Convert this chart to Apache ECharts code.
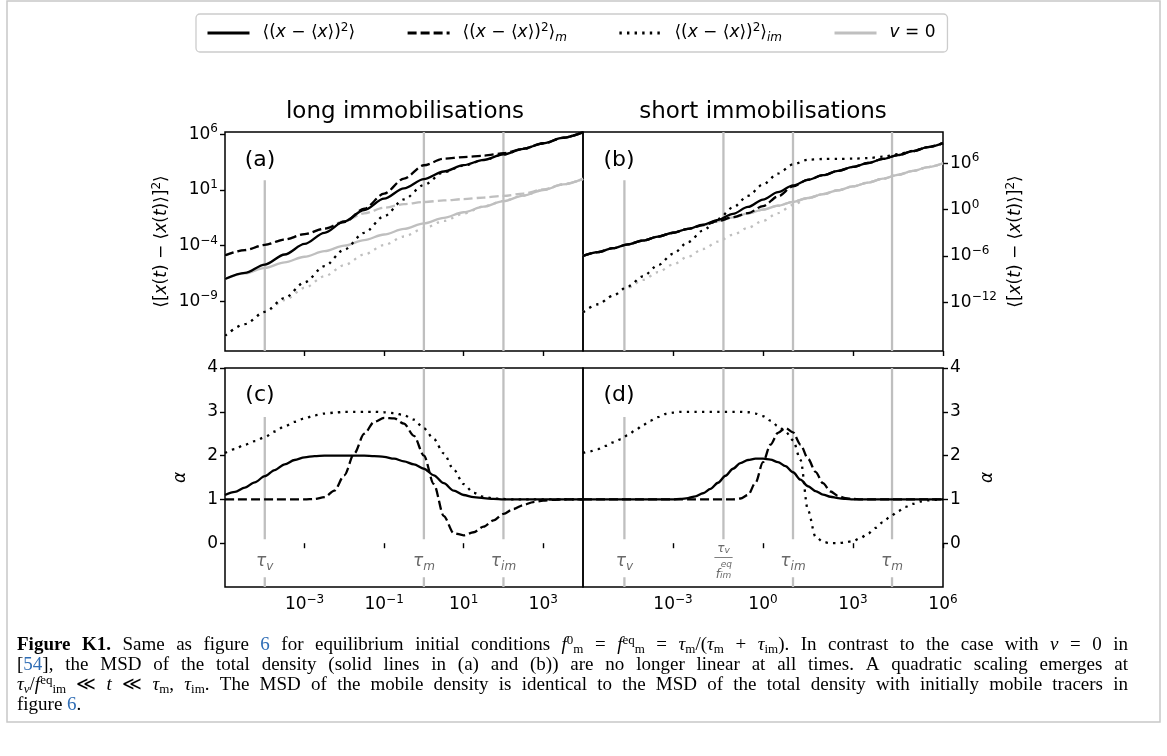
<!DOCTYPE html>
<html>
<head>
<meta charset="utf-8">
<title>Figure K1</title>
<script src="https://cdn.jsdelivr.net/npm/echarts@6.0.0/dist/echarts.min.js"></script>
<style>
html,body{margin:0;padding:0;background:#ffffff;}
#chart{width:1167px;height:756px;}
</style>
</head>
<body>
<div id="chart"></div>
<script>
// ================= DATA =================
// Time grids are stored as log10(t); MSD values as log10(MSD); alpha values as is.

// ---- long immobilisations: MSD, panel (a) ----
const logTimeMsdLong = [-5,-4.5,-4,-3.5,-3,-2.5,-2,-1.5,-1,-0.5,0,0.5,1,1.5,2,2.5,3,3.5,4];
const logMsdLongTotal    = [-7.0,-6.45,-5.7,-4.8,-3.85,-2.85,-1.83,-0.8,0.22,1.15,1.98,2.66,3.23,3.7,4.2,4.7,5.2,5.7,6.2];
const logMsdLongMobile   = [-4.87,-4.4,-3.93,-3.45,-2.97,-2.47,-1.88,-0.68,0.67,2.02,3.22,3.81,3.96,4.08,4.3,4.71,5.18,5.68,6.18];
const logMsdLongImmobile = [-12.1,-11.05,-9.95,-8.7,-7.3,-5.85,-4.35,-2.85,-1.35,0.15,1.45,2.6,3.2,3.68,4.19,4.69,5.19,5.69,6.19];
const logMsdLongV0       = [-7.0,-6.5,-6.0,-5.5,-5.0,-4.5,-4.0,-3.5,-3.0,-2.5,-2.0,-1.5,-1.0,-0.5,0.0,0.5,1.0,1.5,2.0];
const logMsdLongV0Mobile = [-4.87,-4.4,-3.93,-3.45,-2.97,-2.45,-1.8,-1.1,-0.6,-0.27,-0.08,0.06,0.18,0.32,0.47,0.68,1.05,1.5,2.0];
const logMsdLongV0Immob  = [-12.1,-11.05,-9.98,-8.9,-7.8,-6.75,-5.75,-4.8,-3.95,-3.18,-2.45,-1.78,-1.12,-0.48,0.02,0.5,1.0,1.5,2.0];

// ---- short immobilisations: MSD, panel (b) ----
const logTimeMsdShort = [-6,-5.5,-5,-4.5,-4,-3.5,-3,-2.5,-2,-1.5,-1,-0.5,0,0.5,1,1.5,2,2.5,3,3.5,4,4.5,5,5.5,6];
const logMsdShortTotal    = [-6,-5.5,-5,-4.5,-4,-3.5,-3,-2.49,-1.95,-1.33,-0.55,0.34,1.3,2.25,3.12,3.85,4.45,5.0,5.52,6.03,6.55,7.05,7.57,8.08,8.6];
const logMsdShortMobile   = [-6,-5.5,-5,-4.5,-4,-3.5,-3,-2.5,-2.0,-1.5,-0.98,-0.45,0.45,1.7,3.0,3.87,4.45,5.0,5.52,6.03,6.55,7.05,7.57,8.08,8.6];
const logMsdShortImmobile = [-13.3,-12.25,-11.13,-9.93,-8.63,-7.2,-5.72,-4.22,-2.72,-1.22,0.28,1.78,3.25,4.66,5.85,6.45,6.55,6.56,6.59,6.66,6.85,7.17,7.6,8.1,8.6];
const logMsdShortV0       = [-6,-5.5,-5,-4.5,-4,-3.5,-3,-2.5,-2,-1.5,-1,-0.5,0,0.5,1,1.5,2,2.5,3,3.5,4,4.5,5,5.5,6];
const logMsdShortV0Mobile = [-6,-5.5,-5,-4.5,-4,-3.5,-3,-2.5,-2,-1.5,-1,-0.5,0,0.5,1,1.5,2,2.5,3,3.5,4,4.5,5,5.5,6];
const logMsdShortV0Immob  = [-13.3,-12.25,-11.15,-10.1,-9.1,-8.1,-7.1,-6.1,-5.1,-4.15,-3.25,-2.35,-1.45,-0.45,0.6,1.5,2.0,2.5,3.0,3.5,4.0,4.5,5.0,5.5,6.0];

// ---- long immobilisations: alpha, panel (c) ----
const logTimeAlphaLong = [-5,-4.75,-4.5,-4.25,-4,-3.75,-3.5,-3.25,-3,-2.75,-2.5,-2.25,-2,-1.75,-1.5,-1.25,-1,-0.75,-0.5,-0.25,0,0.25,0.5,0.75,1,1.25,1.5,1.75,2,2.25,2.5,2.75,3,3.25,3.5,3.75,4];
const alphaLongTotal    = [1.10,1.17,1.27,1.39,1.53,1.67,1.8,1.9,1.96,1.99,2.0,2.0,2.0,2.0,2.0,1.99,1.97,1.93,1.87,1.8,1.7,1.55,1.37,1.2,1.1,1.05,1.03,1.01,1.0,1.0,1.0,1.0,1.0,1.0,1.0,1.0,1.0];
const alphaLongMobile   = [1.0,1.0,1.0,1.0,1.0,1.0,1.0,1.0,1.0,1.01,1.05,1.2,1.55,2.05,2.5,2.77,2.86,2.85,2.73,2.45,2.0,1.35,0.62,0.23,0.18,0.25,0.38,0.52,0.67,0.78,0.87,0.94,0.97,0.99,1.0,1.0,1.0];
const alphaLongImmobile = [2.06,2.15,2.25,2.33,2.42,2.55,2.67,2.77,2.85,2.92,2.96,2.98,3.0,3.0,3.0,3.0,2.99,2.97,2.92,2.82,2.62,2.38,2.05,1.68,1.35,1.15,1.06,1.02,1.01,1.0,1.0,1.0,1.0,1.0,1.0,1.0,1.0];

// ---- short immobilisations: alpha, panel (d) ----
const logTimeAlphaShort = [-6,-5.75,-5.5,-5.25,-5,-4.75,-4.5,-4.25,-4,-3.75,-3.5,-3.25,-3,-2.75,-2.5,-2.25,-2,-1.75,-1.5,-1.25,-1,-0.75,-0.5,-0.25,0,0.25,0.5,0.75,1,1.25,1.5,1.75,2,2.25,2.5,2.75,3,3.25,3.5,3.75,4,4.25,4.5,4.75,5,5.25,5.5,5.75,6];
const alphaShortTotal    = [1,1,1,1,1,1,1,1,1,1,1,1,1,1.01,1.03,1.07,1.14,1.24,1.38,1.54,1.7,1.83,1.9,1.93,1.93,1.91,1.85,1.76,1.62,1.45,1.3,1.19,1.11,1.06,1.03,1.01,1,1,1,1,1,1,1,1,1,1,1,1,1];
const alphaShortMobile   = [1,1,1,1,1,1,1,1,1,1,1,1,1,1,1,1,1,1,1,1,1,1.02,1.1,1.38,1.85,2.25,2.52,2.63,2.53,2.25,1.93,1.63,1.37,1.18,1.08,1.03,1.01,1,1,1,1,1,1,1,1,1,1,1,1];
const alphaShortImmobile = [2.06,2.1,2.15,2.22,2.3,2.37,2.47,2.58,2.7,2.8,2.88,2.95,2.98,3,3,3,3,3,3,3,3,3,2.99,2.96,2.9,2.8,2.67,2.55,2.35,1.9,0.75,0.15,0.03,0.0,0.0,0.02,0.05,0.12,0.22,0.35,0.48,0.61,0.73,0.83,0.9,0.95,0.98,0.99,1.0];

// ---- characteristic times (vertical reference lines) ----
const tauLong = [1e-4, 1, 100];
const tauLongLabels = ['v', 'm', 'im'];
const tauShort = [2.4e-5, 0.048, 10, 2e4];
const tauShortLabels = ['v', 'v/f', 'im', 'm'];

// ---- tick values ----
const xTicksLong = [1e-3, 1e-1, 1e1, 1e3];
const xTicksShort = [1e-3, 1e0, 1e3, 1e6];
const yTicksMsdLong = [1e-9, 1e-4, 1e1, 1e6];
const yTicksMsdShort = [1e-12, 1e-6, 1e0, 1e6];
const yTicksAlpha = [0, 1, 2, 3, 4];

// ---- texts ----
const panelTitles = ['long immobilisations', 'short immobilisations'];
const panelLetters = ['(a)', '(b)', '(c)', '(d)'];

// ================= STYLE / LAYOUT =================
const FONT = '"DejaVu Sans", sans-serif';
const SERIF = '"Liberation Serif", "DejaVu Serif", serif';
const GREY = '#bfbfbf';
const BLACK = '#000000';
const TAUC = '#444444';
const LINK = '#2f6db5';
const DASH = [9, 4];
const DOT = [2.4, 5.2];
const LW = 2.3;
const MINUS = '\u2212';

const P = v => Math.pow(10, v);
const yExtLong = [-13.47, 6.21];
const yExtShort = [-18.3, 10.04];
const ALPHA_MIN = -1, ALPHA_MAX = 4;
const TAU_LABEL_ALPHA = -0.42;

function powLabel(v) {
  const e = Math.round(Math.log10(v));
  return '{b|10}{s|' + (e < 0 ? MINUS + (-e) : e) + '}';
}
const powRich = {
  b: {fontSize: 17, lineHeight: 22, fontFamily: FONT, color: '#000'},
  s: {fontSize: 12, lineHeight: 12, verticalAlign: 'top', fontFamily: FONT, color: '#000'}
};
const nameRich = {
  n: {fontSize: 17, lineHeight: 22, fontFamily: FONT, color: '#000'},
  i: {fontSize: 17, lineHeight: 22, fontFamily: FONT, fontStyle: 'italic', color: '#000'},
  s: {fontSize: 12, lineHeight: 12, verticalAlign: 'top', fontFamily: FONT, color: '#000'}
};
const msdName = '{n|\u27e8[}{i|x}{n|(}{i|t}{n|) ' + MINUS + ' \u27e8}{i|x}{n|(}{i|t}{n|)\u27e9]}{s|2}{n|\u27e9}';

const tauRich = {
  t: {fontSize: 17, lineHeight: 22, fontStyle: 'italic', fontFamily: FONT, color: TAUC},
  u: {fontSize: 12, lineHeight: 12, verticalAlign: 'bottom', fontStyle: 'italic', fontFamily: FONT, color: TAUC},
  fn: {fontSize: 12, lineHeight: 13, fontStyle: 'italic', fontFamily: FONT, color: TAUC},
  fu: {fontSize: 9, lineHeight: 9, verticalAlign: 'bottom', fontStyle: 'italic', fontFamily: FONT, color: TAUC},
  bar: {fontSize: 10, lineHeight: 5, fontFamily: '"DejaVu Sans Mono", monospace', color: TAUC},
  fe: {fontSize: 9, lineHeight: 8, fontStyle: 'italic', fontFamily: FONT, color: TAUC},
  fd: {fontSize: 12, lineHeight: 12, fontStyle: 'italic', fontFamily: FONT, color: TAUC}
};
function tauText(key) {
  if (key === 'v/f') return '{fn|\u03c4}{fu|v}\n{bar|\u2500\u2500\u2500}\n{fe|  eq}\n{fd|f}{fu|im}';
  return '{t|\u03c4}{u|' + key + '}';
}

const legendRich = {
  n: {fontSize: 17, lineHeight: 22, fontFamily: FONT, color: '#000'},
  i: {fontSize: 17, lineHeight: 22, fontStyle: 'italic', fontFamily: FONT, color: '#000'},
  s: {fontSize: 12, lineHeight: 12, verticalAlign: 'top', fontFamily: FONT, color: '#000'},
  u: {fontSize: 12, lineHeight: 12, verticalAlign: 'bottom', fontStyle: 'italic', fontFamily: FONT, color: '#000'}
};
const msdLegendBase = '{n|\u27e8(}{i|x}{n| ' + MINUS + ' \u27e8}{i|x}{n|\u27e9)}{s|2}{n|\u27e9}';
const legendTexts = {
  total: msdLegendBase,
  mobile: msdLegendBase + '{u|m}',
  immobile: msdLegendBase + '{u|im}',
  v0: '{i|v}{n| = 0}'
};

// ---------- helpers ----------
function logPairs(ts, vs) { return ts.map((t, i) => [P(t), P(vs[i])]); }
function linPairs(ts, vs) { return ts.map((t, i) => [P(t), vs[i]]); }
function curve(name, idx, data, color, dash, z) {
  return {
    type: 'line', name: name, xAxisIndex: idx, yAxisIndex: idx, data: data,
    symbol: 'none', showSymbol: false, smooth: 0.3, smoothMonotone: 'x',
    lineStyle: {color: color, width: LW, type: dash || 'solid', cap: 'butt'},
    itemStyle: {color: color}, z: z, silent: true, animation: false
  };
}
function vlines(idx, taus, segs) {
  const data = [];
  taus.forEach((t, i) => {
    segs(i).forEach(s => { data.push([t, s[0]], [t, s[1]], [t, '-']); });
  });
  return {
    type: 'line', xAxisIndex: idx, yAxisIndex: idx, data: data, symbol: 'none',
    showSymbol: false, connectNulls: false, silent: true, z: 1,
    lineStyle: {color: GREY, width: LW}, animation: false
  };
}
function tauLabelSeries(idx, taus, labels) {
  return {
    type: 'scatter', xAxisIndex: idx, yAxisIndex: idx, symbolSize: 0, silent: true, z: 6,
    data: taus.map(t => [t, TAU_LABEL_ALPHA]),
    label: {show: true, position: 'inside', formatter: p => tauText(labels[p.dataIndex]), rich: tauRich}
  };
}
const topGapFrac = 0.22;
function topBreak(ext) { return P(ext[1] - topGapFrac * (ext[1] - ext[0])); }

function xAxisCfg(idx, min, max, ticks, showLabels) {
  return {
    gridIndex: idx, type: 'log', logBase: 10, min: min, max: max,
    axisLine: {show: false},
    axisTick: {show: true, customValues: ticks, length: 5, inside: false, lineStyle: {color: '#000', width: 1.4}},
    axisLabel: {show: showLabels, customValues: ticks, formatter: powLabel, rich: powRich, margin: 7},
    splitLine: {show: false}, minorTick: {show: false}, minorSplitLine: {show: false}
  };
}
function yAxisLogCfg(idx, ext, ticks, pos, gap) {
  return {
    gridIndex: idx, type: 'log', logBase: 10, min: P(ext[0]), max: P(ext[1]), position: pos,
    axisLine: {show: false},
    axisTick: {show: true, customValues: ticks, length: 5, lineStyle: {color: '#000', width: 1.4}},
    axisLabel: {show: true, customValues: ticks, formatter: powLabel, rich: powRich, margin: 7},
    splitLine: {show: false}, minorTick: {show: false},
    name: msdName, nameLocation: 'middle', nameRotate: 90, nameGap: gap,
    nameTextStyle: {rich: nameRich}
  };
}
function yAxisAlphaCfg(idx, pos, gap) {
  return {
    gridIndex: idx, type: 'value', min: ALPHA_MIN, max: ALPHA_MAX, position: pos,
    axisLine: {show: false},
    axisTick: {show: true, customValues: yTicksAlpha, length: 5, lineStyle: {color: '#000', width: 1.4}},
    axisLabel: {show: true, customValues: yTicksAlpha, fontSize: 17, fontFamily: FONT, color: '#000', margin: 7},
    splitLine: {show: false},
    name: '\u03b1', nameLocation: 'middle', nameRotate: 90, nameGap: gap,
    nameTextStyle: {fontSize: 17, fontStyle: 'italic', fontFamily: FONT, color: '#000'}
  };
}
const gridBase = {show: true, borderColor: '#000', borderWidth: 1.5, backgroundColor: 'transparent', containLabel: false, outerBoundsMode: 'none'};

// ---------- series ----------
const series = [];
// panel (a)
series.push(curve('v0', 0, logPairs(logTimeMsdLong, logMsdLongV0), GREY, 'solid', 2));
series.push(curve('v0m', 0, logPairs(logTimeMsdLong, logMsdLongV0Mobile), GREY, DASH, 2));
series.push(curve('v0im', 0, logPairs(logTimeMsdLong, logMsdLongV0Immob), GREY, DOT, 2));
series.push(curve('total', 0, logPairs(logTimeMsdLong, logMsdLongTotal), BLACK, 'solid', 3));
series.push(curve('mobile', 0, logPairs(logTimeMsdLong, logMsdLongMobile), BLACK, DASH, 3));
series.push(curve('immobile', 0, logPairs(logTimeMsdLong, logMsdLongImmobile), BLACK, DOT, 3));
// panel (b)
series.push(curve('v0', 1, logPairs(logTimeMsdShort, logMsdShortV0), GREY, 'solid', 2));
series.push(curve('v0m', 1, logPairs(logTimeMsdShort, logMsdShortV0Mobile), GREY, DASH, 2));
series.push(curve('v0im', 1, logPairs(logTimeMsdShort, logMsdShortV0Immob), GREY, DOT, 2));
series.push(curve('mobile', 1, logPairs(logTimeMsdShort, logMsdShortMobile), BLACK, DASH, 3));
series.push(curve('total', 1, logPairs(logTimeMsdShort, logMsdShortTotal), BLACK, 'solid', 3));
series.push(curve('immobile', 1, logPairs(logTimeMsdShort, logMsdShortImmobile), BLACK, DOT, 3));
// panel (c)
series.push(curve('total', 2, linPairs(logTimeAlphaLong, alphaLongTotal), BLACK, 'solid', 3));
series.push(curve('mobile', 2, linPairs(logTimeAlphaLong, alphaLongMobile), BLACK, DASH, 3));
series.push(curve('immobile', 2, linPairs(logTimeAlphaLong, alphaLongImmobile), BLACK, DOT, 3));
// panel (d)
series.push(curve('total', 3, linPairs(logTimeAlphaShort, alphaShortTotal), BLACK, 'solid', 3));
series.push(curve('mobile', 3, linPairs(logTimeAlphaShort, alphaShortMobile), BLACK, DASH, 3));
series.push(curve('immobile', 3, linPairs(logTimeAlphaShort, alphaShortImmobile), BLACK, DOT, 3));
// reference lines
series.push(vlines(0, tauLong, i => i === 0 ? [[P(yExtLong[0]), topBreak(yExtLong)]] : [[P(yExtLong[0]), P(yExtLong[1])]]));
series.push(vlines(1, tauShort, i => i === 0 ? [[P(yExtShort[0]), topBreak(yExtShort)]] : [[P(yExtShort[0]), P(yExtShort[1])]]));
series.push(vlines(2, tauLong, i => i === 0 ? [[0.09, 2.88], [-1, -0.78]] : [[0.09, 4], [-1, -0.78]]));
series.push(vlines(3, tauShort, i => i === 0 ? [[0.09, 2.88], [-1, -0.78]] : (i === 1 ? [[0.09, 4]] : [[0.09, 4], [-1, -0.78]])));
series.push(tauLabelSeries(2, tauLong, tauLongLabels));
series.push(tauLabelSeries(3, tauShort, tauShortLabels));

// ---------- graphic texts ----------
const graphics = [];
graphics.push({type: 'rect', silent: true, z: -10, shape: {x: 7, y: 1, width: 1153, height: 721},
  style: {fill: 'none', stroke: '#c8c8c8', lineWidth: 1.5}});
const titlePos = [[405, 112], [763, 112]];
panelTitles.forEach((t, i) => graphics.push({type: 'text', silent: true, x: titlePos[i][0], y: titlePos[i][1],
  style: {text: t, fontSize: 23, fontFamily: FONT, fill: '#000', align: 'center', verticalAlign: 'middle'}}));
const letterPos = [[260, 160], [619, 160], [260, 395], [619, 395]];
panelLetters.forEach((t, i) => graphics.push({type: 'text', silent: true, x: letterPos[i][0], y: letterPos[i][1],
  style: {text: t, fontSize: 22, fontFamily: FONT, fill: '#000', align: 'center', verticalAlign: 'middle'}}));

// caption (justified lines built from words)
const CAPF = 19;
const capRich = {
  n: {fontSize: CAPF, lineHeight: 22, fontFamily: SERIF, fill: '#000', color: '#000'},
  b: {fontSize: CAPF, lineHeight: 22, fontFamily: SERIF, fontWeight: 'bold', fill: '#000', color: '#000'},
  i: {fontSize: CAPF, lineHeight: 22, fontFamily: SERIF, fontStyle: 'italic', fill: '#000', color: '#000'},
  l: {fontSize: CAPF, lineHeight: 22, fontFamily: SERIF, fill: LINK, color: LINK},
  p: {fontSize: 13, lineHeight: 12, verticalAlign: 'top', fontFamily: SERIF, fill: '#000', color: '#000'},
  q: {fontSize: 13, lineHeight: 12, verticalAlign: 'bottom', fontFamily: SERIF, fill: '#000', color: '#000'},
  qi: {fontSize: 13, lineHeight: 12, verticalAlign: 'bottom', fontFamily: SERIF, fontStyle: 'italic', fill: '#000', color: '#000'}
};
const captionLines = [
  [['b', 'Figure K1.'], ['n', ' Same as figure '], ['l', '6'], ['n', ' for equilibrium initial conditions '],
   ['i', 'f'], ['p', '0'], ['q', 'm'], ['n', ' = '], ['i', 'f'], ['p', 'eq'], ['q', 'm'], ['n', ' = '],
   ['i', '\u03c4'], ['q', 'm'], ['n', '/('], ['i', '\u03c4'], ['q', 'm'], ['n', ' + '], ['i', '\u03c4'], ['q', 'im'],
   ['n', '). In contrast to the case with '], ['i', 'v'], ['n', ' = 0 in']],
  [['n', '['], ['l', '54'], ['n', '], the MSD of the total density (solid lines in (a) and (b)) are no longer linear at all times. A quadratic scaling emerges at']],
  [['i', '\u03c4'], ['qi', 'v'], ['n', '/'], ['i', 'f'], ['p', 'eq'], ['q', 'im'], ['n', ' \u226a '], ['i', 't'], ['n', ' \u226a '],
   ['i', '\u03c4'], ['q', 'm'], ['n', ', '], ['i', '\u03c4'], ['q', 'im'],
   ['n', '. The MSD of the mobile density is identical to the MSD of the total density with initially mobile tracers in']],
  [['n', 'figure '], ['l', '6'], ['n', '.']]
];
const captionY = [645, 665, 685, 705];
const CAP_L = 17, CAP_R = 1128;
const mctx = document.createElement('canvas').getContext('2d');
function fontOf(st) {
  return (st.fontStyle || 'normal') + ' ' + (st.fontWeight || 'normal') + ' ' + st.fontSize + 'px ' + st.fontFamily;
}
function measure(word) {
  let w = 0;
  word.forEach(seg => { mctx.font = fontOf(capRich[seg[0]]); w += mctx.measureText(seg[1]).width; });
  return w;
}
mctx.font = fontOf(capRich.n);
const spaceW = mctx.measureText(' ').width;
captionLines.forEach((line, li) => {
  const words = [[]];
  line.forEach(seg => {
    const parts = seg[1].split(' ');
    parts.forEach((part, j) => {
      if (j > 0) words.push([]);
      if (part !== '') words[words.length - 1].push([seg[0], part]);
    });
  });
  const ws = words.filter(w => w.length > 0);
  let widths = ws.map(measure);
  const total = widths.reduce((a, b) => a + b, 0);
  const justify = li < captionLines.length - 1;
  const avail = CAP_R - CAP_L;
  let sx = 1;
  const minNeed = total + (ws.length - 1) * spaceW * 0.8;
  if (justify && minNeed > avail) { sx = avail / minNeed; }
  widths = widths.map(w => w * sx);
  const tot2 = total * sx;
  const gap = justify ? (avail - tot2) / (ws.length - 1) : spaceW;
  let x = CAP_L;
  ws.forEach((w, k) => {
    const txt = w.map(seg => '{' + seg[0] + '|' + seg[1] + '}').join('');
    graphics.push({type: 'text', silent: true, x: x, y: captionY[li], scaleX: sx, scaleY: 1,
      style: {text: txt, rich: capRich, align: 'left', verticalAlign: 'middle', fontSize: CAPF, fontFamily: SERIF, fill: '#000'}});
    x += widths[k] + gap;
  });
});

// ================= CHART =================
const option = {
  animation: false,
  backgroundColor: '#ffffff',
  textStyle: {fontFamily: FONT},
  legend: {
    show: true, left: 196, top: 14, orient: 'horizontal', selectedMode: false,
    data: ['total', 'mobile', 'immobile', 'v0'],
    itemWidth: 42, itemHeight: 14, itemGap: 51,
    padding: [8, 12, 8, 10],
    borderColor: '#cccccc', borderWidth: 1.3, borderRadius: 4, backgroundColor: '#ffffff',
    itemStyle: {opacity: 0},
    lineStyle: {width: 3},
    formatter: name => legendTexts[name],
    textStyle: {fontFamily: FONT, fontSize: 17, color: '#000', rich: legendRich, padding: [0, 0, 0, 8]}
  },
  grid: [
    Object.assign({left: 225, top: 132, width: 358, height: 219}, gridBase),
    Object.assign({left: 583, top: 132, width: 360, height: 219}, gridBase),
    Object.assign({left: 225, top: 368, width: 358, height: 219}, gridBase),
    Object.assign({left: 583, top: 368, width: 360, height: 219}, gridBase)
  ],
  xAxis: [
    xAxisCfg(0, 1e-5, 1e4, xTicksLong, false),
    xAxisCfg(1, 1e-6, 1.0001e6, xTicksShort, false),
    xAxisCfg(2, 1e-5, 1e4, xTicksLong, true),
    xAxisCfg(3, 1e-6, 1.0001e6, xTicksShort, true)
  ],
  yAxis: [
    yAxisLogCfg(0, yExtLong, yTicksMsdLong, 'left', 52),
    yAxisLogCfg(1, yExtShort, yTicksMsdShort, 'right', 62),
    yAxisAlphaCfg(2, 'left', 36),
    yAxisAlphaCfg(3, 'right', 36)
  ],
  series: series,
  graphic: {elements: graphics}
};

const chart = echarts.init(document.getElementById('chart'), null, {renderer: 'canvas', width: 1167, height: 756});
chart.setOption(option);
</script>
</body>
</html>
